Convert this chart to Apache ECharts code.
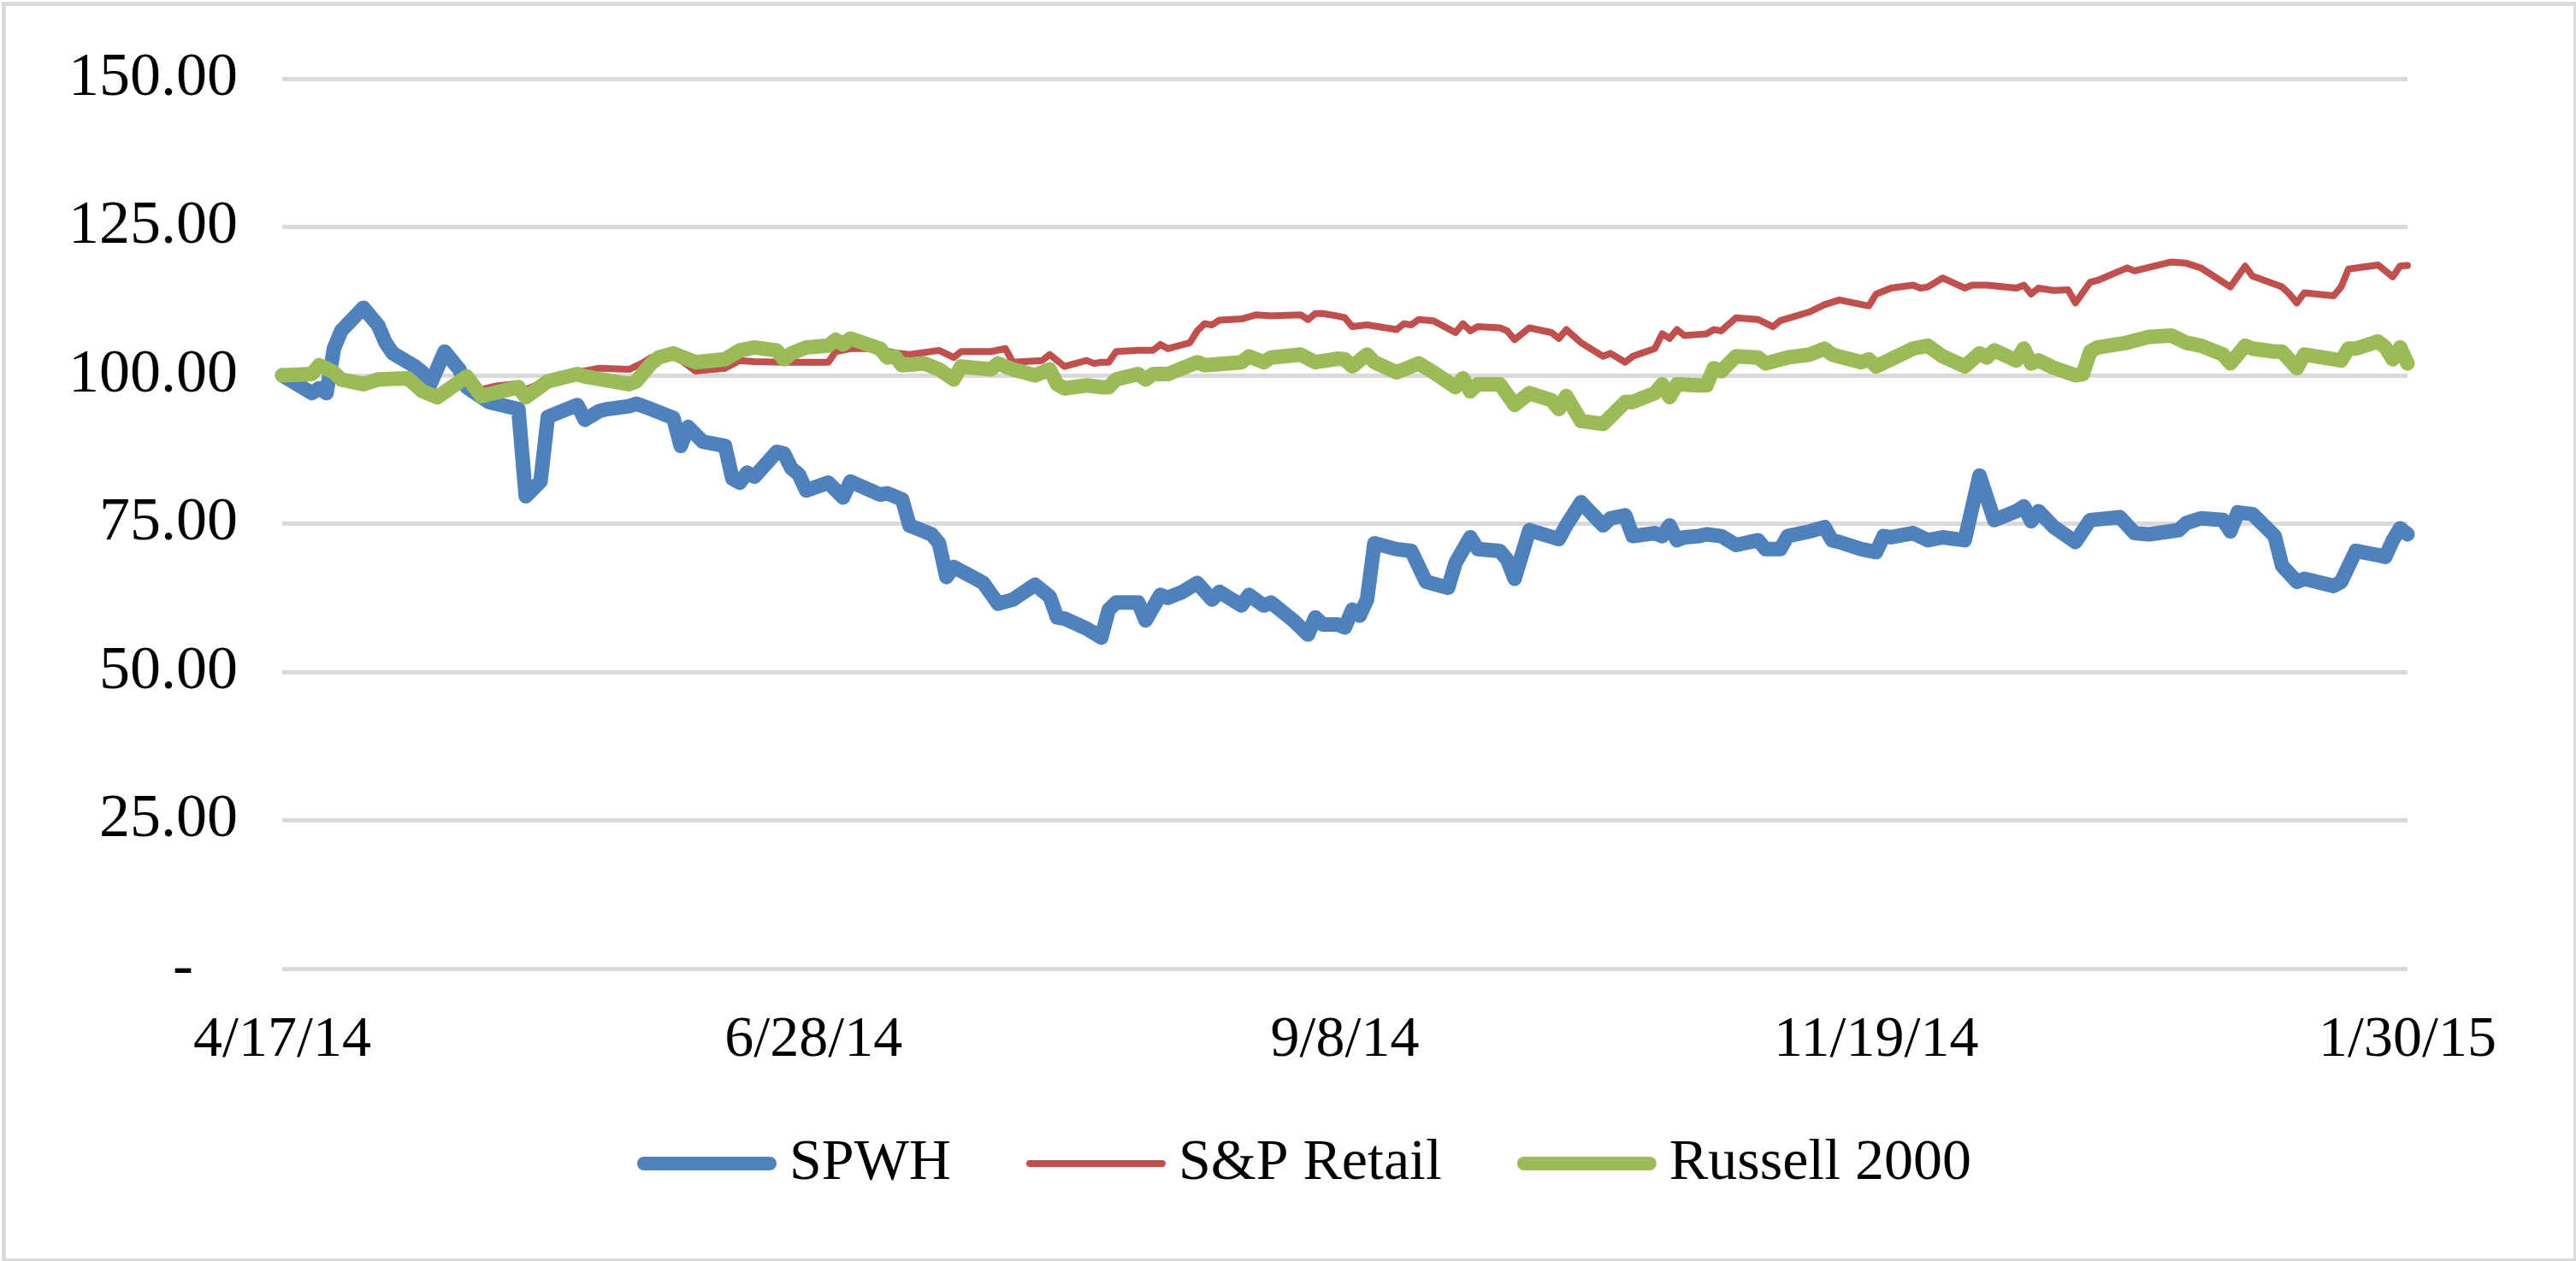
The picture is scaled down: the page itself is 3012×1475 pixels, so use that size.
<!DOCTYPE html>
<html>
<head>
<meta charset="utf-8">
<script src="https://cdn.jsdelivr.net/npm/echarts@6/dist/echarts.min.js"></script>
<style>
html,body{margin:0;padding:0;background:#fff;}
#chart{width:3012px;height:1475px;}
</style>
</head>
<body>
<div id="chart"></div>
<script>
// x tick labels (calendar days from 4/17/14, one label every 72 days)
const tickLabels = ['4/17/14', '6/28/14', '9/8/14', '11/19/14', '1/30/15'];
const seriesNames = ['SPWH', 'S&P Retail', 'Russell 2000'];

// SPWH: day offsets and indexed values
const spwhDays = [0,4,5,6,7,8,11,13,14,15,18,19,20,22,24,25,28,32,33,35,36,40,41,43,44,47,48,50,53,54,55,57,60,61,62,63,64,67,68,69,70,71,74,76,77,81,82,84,85,88,89,90,91,94,95,97,99,102,104,105,106,109,111,112,113,116,117,119,120,122,124,126,127,130,131,133,134,137,139,140,141,143,144,145,146,147,148,151,153,155,158,159,161,162,165,166,167,169,173,174,176,179,180,182,183,186,187,188,189,190,192,193,195,197,200,201,203,204,207,209,210,211,214,216,217,218,221,223,225,228,230,232,235,236,237,238,240,243,245,249,251,253,257,258,260,263,264,265,267,270,271,273,274,278,279,281,284,285,286,287,288];
const spwhValues = [100,97.0,97.8,97.0,104.5,107.5,111.4,108.4,105.5,103.7,101.5,100.5,98.3,104.0,101.0,98.0,95.5,94.3,79.6,82.1,93.0,95.0,92.5,94.0,94.3,94.8,95.2,94.3,92.8,88.1,91.3,88.8,88.1,82.6,81.9,83.6,82.9,87.1,86.8,84.3,83.3,80.6,81.9,79.4,82.1,79.9,80.1,79.1,74.7,73.2,71.7,66.0,67.7,65.7,65.0,61.5,62.2,64.7,62.7,59.2,59.0,57.3,55.8,60.5,61.7,61.7,58.7,63.0,62.5,63.5,65.0,62.2,63.5,61.2,63.0,61.2,61.7,58.7,56.3,59.2,58.0,58.0,57.5,60.5,59.5,62.2,71.7,70.7,70.4,65.2,64.2,68.4,72.7,70.7,70.4,68.9,65.7,73.9,72.4,74.7,78.6,74.7,75.9,76.4,72.9,73.4,72.9,74.7,72.2,72.7,72.9,73.2,72.9,71.4,72.2,70.7,70.7,72.9,73.7,74.4,72.2,71.9,70.7,70.2,72.9,72.7,73.4,72.2,72.7,72.2,83.1,75.6,77.1,77.9,75.4,77.1,74.5,71.9,75.6,76.1,73.4,73.2,73.9,75.1,75.9,75.6,73.7,76.9,76.6,72.9,67.9,65.2,65.7,64.5,65.2,70.4,69.7,69.4,72.2,74.2,73.2];

// S&P Retail
const retailDays = [0,4,5,7,8,11,13,17,19,21,25,27,29,32,33,36,40,43,47,49,50,53,56,60,62,64,68,70,74,75,77,80,83,85,89,91,92,96,98,99,103,104,106,109,110,111,112,113,116,118,119,120,123,124,125,126,127,130,132,134,138,139,140,141,143,144,145,147,151,152,153,154,156,159,160,161,162,165,166,167,169,172,173,174,176,179,180,182,183,186,187,188,189,190,192,193,194,195,197,200,202,203,207,209,211,215,216,218,221,222,223,225,228,229,231,235,236,237,238,240,242,243,245,246,250,251,256,258,260,264,266,267,271,272,273,274,278,279,280,284,286,287,288];
const retailValues = [100,100.2,101.0,100.3,99.5,98.8,99.4,99.6,98.0,97.0,99.6,97.6,98.2,98.6,97.6,99.2,100.5,101.2,101.0,102.2,103.0,103.5,100.7,101.2,102.5,102.3,102.2,102.2,102.2,104.0,104.5,104.5,103.8,103.5,104.2,103.0,104.0,104.0,104.5,102.2,102.5,103.5,101.5,102.5,102.0,102.2,102.2,104.0,104.2,104.2,105.2,104.5,105.5,107.5,108.7,108.5,109.3,109.5,110.2,110.0,110.2,109.4,110.4,110.4,110.0,109.7,108.2,108.5,107.7,108.7,108.5,109.4,109.2,107.2,108.7,107.5,108.2,108.0,107.5,106.0,108.0,107.2,106.2,107.7,105.5,103.2,103.7,102.2,103.2,104.5,107.0,106.2,107.7,106.7,106.9,107.0,107.7,107.5,109.7,109.4,108.2,109.2,110.7,111.9,112.7,111.7,113.7,114.7,115.2,114.7,114.9,116.4,114.7,115.2,115.2,114.7,115.2,113.7,114.7,114.3,114.4,112.2,115.7,116.0,118.1,117.6,119.1,118.9,118.1,114.9,118.4,116.7,114.9,113.7,112.2,113.9,113.4,114.9,117.9,118.6,116.6,118.4,118.5];

// Russell 2000
const russellDays = [0,4,5,7,8,11,13,17,19,21,25,27,32,33,36,40,41,47,48,50,51,53,56,60,62,64,67,68,69,71,74,75,76,77,81,82,83,84,87,89,91,92,96,97,99,102,104,105,106,109,111,112,113,116,117,118,120,124,125,130,131,133,134,138,140,143,144,145,147,148,151,154,156,159,160,161,162,165,167,169,172,173,174,176,179,182,183,186,187,188,189,192,193,194,195,197,200,201,204,207,209,210,214,215,216,218,221,223,225,228,230,231,232,235,236,237,238,240,243,244,245,246,250,253,256,258,260,263,264,266,267,270,271,273,274,279,280,281,284,285,286,287,288];
const russellValues = [100,100.2,101.7,100.5,99.3,98.5,99.3,99.5,97.3,96.3,99.8,96.5,98.0,96.3,99.0,100.2,99.8,98.5,99.0,102.0,103.0,103.7,102.2,102.7,104.2,104.7,104.2,102.7,103.7,104.7,105.0,106.0,105.2,106.2,104.5,103.0,103.2,101.7,102.0,101.0,99.3,101.5,101.0,102.0,101.0,100.0,101.0,98.5,97.8,98.3,98.0,98.0,99.3,100.2,99.3,100.2,100.2,102.2,101.7,102.2,103.2,102.2,103.0,103.5,102.2,102.8,102.7,101.5,103.5,102.2,100.5,102.0,100.5,98.0,99.5,97.3,98.5,98.5,95.0,97.0,95.8,94.3,96.5,92.3,91.8,95.5,95.5,97.0,98.5,96.3,98.5,98.3,98.3,101.2,100.7,103.2,103.0,102.0,103.0,103.5,104.5,103.5,102.2,102.7,101.5,102.7,104.5,105.0,103.2,101.5,103.7,103.0,104.2,102.5,104.5,102.0,102.5,101.3,100.0,100.2,104.0,104.7,105.5,106.5,106.7,105.5,105.0,103.5,102.0,105.0,104.5,104.0,104.0,101.2,103.5,102.5,104.5,104.5,105.7,104.7,102.7,104.7,102.0];

const zip = (xs, ys) => xs.map((x, i) => [x, ys[i]]);
const FONT = '"Liberation Serif", "Times New Roman", serif';
const thickIcon = 'path://M8,0 L155,0 A8,8 0 0 1 155,16 L8,16 A8,8 0 0 1 8,0 Z';
const thinIcon = 'path://M4,0 L159,0 A4,4 0 0 1 159,8 L4,8 A4,4 0 0 1 4,0 Z';
const colors = ['#4f81bd', '#c0504d', '#9bbb59'];

const chart = echarts.init(document.getElementById('chart'));
chart.setOption({
  animation: false,
  backgroundColor: '#ffffff',
  graphic: [{
    type: 'rect', left: 2, top: 2, silent: true,
    shape: { width: 3007, height: 1470 },
    style: { fill: 'none', stroke: '#d9d9d9', lineWidth: 5 }
  }],
  grid: { left: 330, right: 197, top: 92, bottom: 342, containLabel: false },
  xAxis: {
    type: 'value', min: 0, max: 288, interval: 72,
    axisLine: { show: false }, axisTick: { show: false }, splitLine: { show: false },
    axisLabel: {
      margin: 50, fontFamily: FONT, fontSize: 68, color: '#000',
      formatter: v => tickLabels[Math.round(v / 72)] || ''
    }
  },
  yAxis: {
    type: 'value', min: 0, max: 150, interval: 25,
    axisLine: { show: false }, axisTick: { show: false },
    splitLine: { lineStyle: { color: '#d9d9d9', width: 5 } },
    axisLabel: {
      margin: 52, fontFamily: FONT, fontSize: 72, color: '#000',
      formatter: v => v === 0 ? '{d|-}' : v.toFixed(2),
      rich: { d: { fontFamily: FONT, fontSize: 72, color: '#000', padding: [0, 52, 0, 0] } }
    }
  },
  legend: {
    left: 740, top: 1322, itemGap: 88, itemWidth: 163, itemHeight: 16,
    textStyle: { fontFamily: FONT, fontSize: 68, color: '#000', padding: [0, 0, 0, 10] },
    data: [
      { name: seriesNames[0], icon: thickIcon, itemStyle: { color: colors[0], borderWidth: 0 } },
      { name: seriesNames[1], icon: thinIcon, itemStyle: { color: colors[1], borderWidth: 0 } },
      { name: seriesNames[2], icon: thickIcon, itemStyle: { color: colors[2], borderWidth: 0 } }
    ]
  },
  series: [
    { name: seriesNames[0], type: 'line', showSymbol: false, symbol: 'none', z: 1,
      data: zip(spwhDays, spwhValues),
      lineStyle: { color: colors[0], width: 17, cap: 'round', join: 'round' },
      itemStyle: { color: colors[0] } },
    { name: seriesNames[1], type: 'line', showSymbol: false, symbol: 'none', z: 2,
      data: zip(retailDays, retailValues),
      lineStyle: { color: colors[1], width: 8, cap: 'round', join: 'round' },
      itemStyle: { color: colors[1] } },
    { name: seriesNames[2], type: 'line', showSymbol: false, symbol: 'none', z: 3,
      data: zip(russellDays, russellValues),
      lineStyle: { color: colors[2], width: 17, cap: 'round', join: 'round' },
      itemStyle: { color: colors[2] } }
  ]
});
</script>
</body>
</html>
